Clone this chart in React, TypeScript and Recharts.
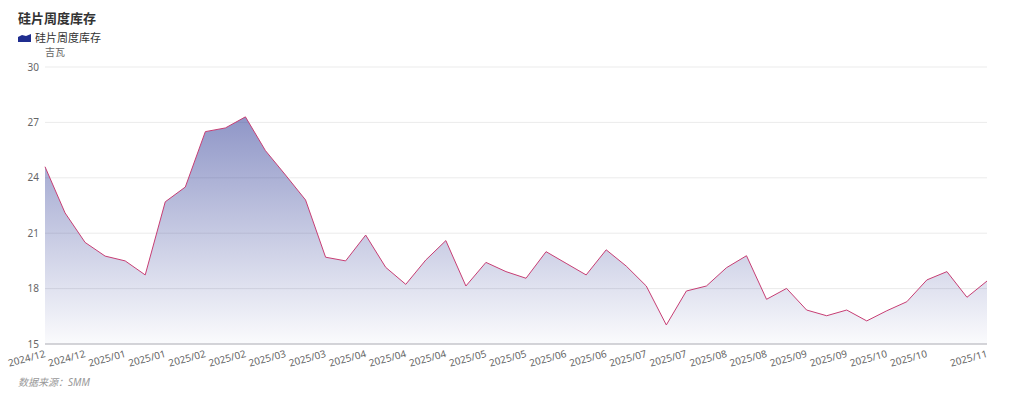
import { AreaChart, Area, XAxis, YAxis, CartesianGrid } from 'recharts'

// weekly dates, one per point
const dates = [
  '2024/12/05', '2024/12/12', '2024/12/19', '2024/12/26', '2025/01/02', '2025/01/09',
  '2025/01/16', '2025/01/23', '2025/02/06', '2025/02/13', '2025/02/20', '2025/02/27',
  '2025/03/06', '2025/03/13', '2025/03/20', '2025/03/27', '2025/04/03', '2025/04/10',
  '2025/04/17', '2025/04/24', '2025/04/30', '2025/05/08', '2025/05/15', '2025/05/22',
  '2025/05/29', '2025/06/05', '2025/06/12', '2025/06/19', '2025/06/26', '2025/07/03',
  '2025/07/10', '2025/07/17', '2025/07/24', '2025/07/31', '2025/08/07', '2025/08/14',
  '2025/08/21', '2025/08/28', '2025/09/04', '2025/09/11', '2025/09/18', '2025/09/25',
  '2025/10/09', '2025/10/16', '2025/10/23', '2025/10/30', '2025/11/06', '2025/11/13',
]

// 硅片周度库存, GW
const inventory = [
  24.6, 22.1, 20.5, 19.76, 19.5, 18.74, 22.7, 23.5, 26.5, 26.7, 27.3, 25.47,
  24.15, 22.8, 19.7, 19.5, 20.9, 19.15, 18.23, 19.55, 20.6, 18.14, 19.42, 18.92,
  18.56, 20.0, 19.37, 18.74, 20.1, 19.22, 18.14, 16.03, 17.87, 18.14, 19.13, 19.78,
  17.42, 18.01, 16.84, 16.53, 16.84, 16.25, 16.8, 17.29, 18.47, 18.92, 17.53, 18.41,
]

const tickIndexes = [0, 2, 4, 6, 8, 10, 12, 14, 16, 18, 20, 22, 24, 26, 28, 30, 32, 34, 36, 38, 40, 42, 44, 47]
const yTicks = [15, 18, 21, 24, 27, 30]

const chartData = dates.map((d, i) => ({ date: d, value: inventory[i] }))
const xTicks = tickIndexes.map(i => dates[i])

const FONT = '"Noto Sans", "Noto Sans CJK SC", sans-serif'

const RotatedTick = ({ x, y, payload }: any) => {
  const label = String(payload.value).slice(0, 7)
  return (
    <text
      x={x}
      y={y}
      transform={`rotate(-15, ${x}, ${y})`}
      textAnchor="end"
      dominantBaseline="central"
      fontSize={10}
      fill="#666"
      fontFamily={FONT}
    >
      {label}
    </text>
  )
}

export default function App() {
  return (
    <div style={{ position: 'absolute', left: 0, top: 0, width: 1024, height: 399, background: '#fff', fontFamily: FONT }}>
      <div style={{ position: 'absolute', left: 18, top: 9, fontSize: 13, fontWeight: 'bold', color: '#333', lineHeight: '18px' }}>
        硅片周度库存
      </div>
      <div style={{ position: 'absolute', left: 18, top: 31, display: 'flex', alignItems: 'center', fontSize: 11, color: '#333', lineHeight: '14px' }}>
        <svg width={13} height={8} style={{ marginRight: 4 }}>
          <path d="M0 3 L4 1 L8 2 L13 0 L13 8 L0 8 Z" fill="#1f2d8f" />
        </svg>
        硅片周度库存
      </div>
      <div style={{ position: 'absolute', left: 45, top: 46, fontSize: 10, color: '#666', lineHeight: '12px' }}>
        吉瓦
      </div>

      <AreaChart
        width={1024}
        height={399}
        data={chartData}
        margin={{ top: 67, right: 37, bottom: 25, left: 5 }}
      >
        <defs>
          <linearGradient id="invFill" x1="0" y1="0" x2="0" y2="1">
            <stop offset="0%" stopColor="#1f2d8f" stopOpacity={0.5} />
            <stop offset="100%" stopColor="#1f2d8f" stopOpacity={0.02} />
          </linearGradient>
        </defs>
        <CartesianGrid vertical={false} stroke="#ebebeb" />
        <XAxis
          dataKey="date"
          ticks={xTicks}
          interval={0}
          height={30}
          tickSize={0}
          tickMargin={9}
          tickLine={false}
          axisLine={{ stroke: '#b4b4bc' }}
          tick={<RotatedTick />}
        />
        <YAxis
          domain={[15, 30]}
          ticks={yTicks}
          width={40}
          tickSize={4}
          tickMargin={2}
          tickLine={false}
          axisLine={false}
          tick={{ fontSize: 10, fill: '#666', fontFamily: FONT }}
        />
        <Area
          type="linear"
          dataKey="value"
          name="硅片周度库存"
          stroke="#c73e74"
          strokeWidth={1}
          fill="url(#invFill)"
          fillOpacity={1}
          dot={false}
          activeDot={false}
          isAnimationActive={false}
        />
      </AreaChart>

      <div style={{ position: 'absolute', left: 18, top: 376, fontSize: 10, fontStyle: 'italic', color: '#999', lineHeight: '12px' }}>
        数据来源：SMM
      </div>
    </div>
  )
}
